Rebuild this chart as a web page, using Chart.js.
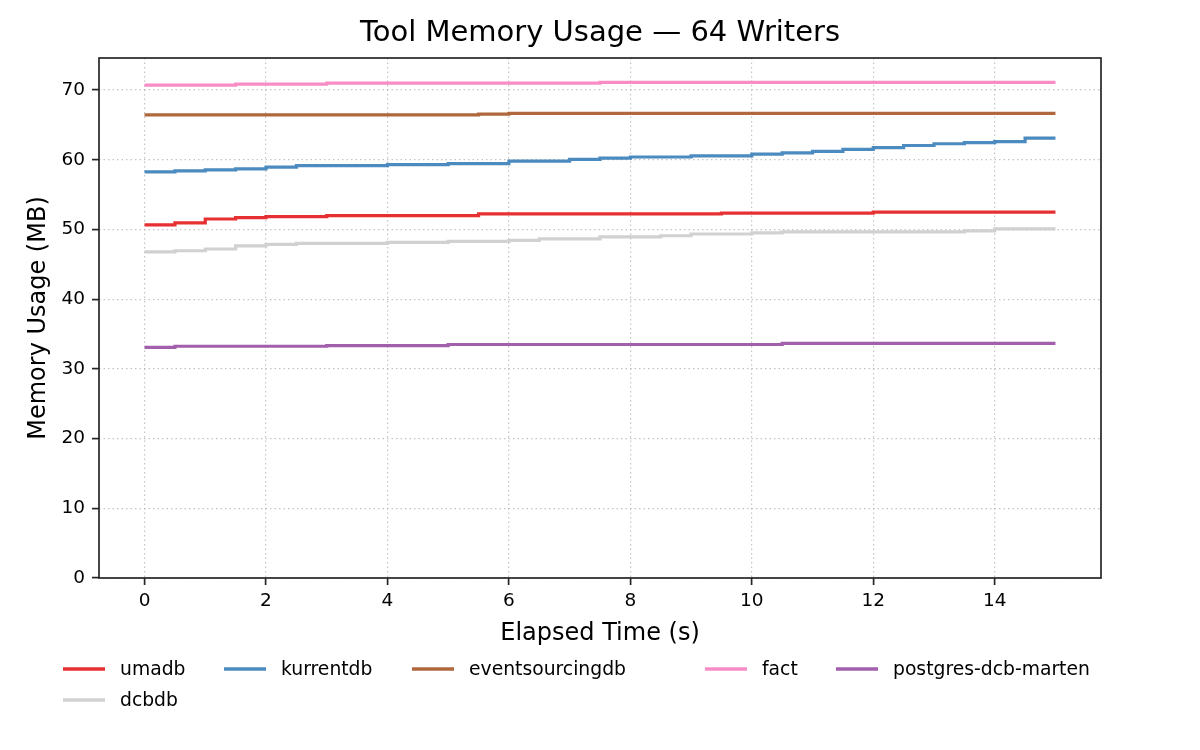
<!DOCTYPE html>
<html>
<head>
<meta charset="utf-8">
<script src="https://cdn.jsdelivr.net/npm/chart.js@4.4.1/dist/chart.umd.min.js"></script>
<style>
  html, body { margin: 0; padding: 0; background: #fff; }
</style>
</head>
<body>
<canvas id="memChart" width="1200" height="750"></canvas>
<script>
// elapsed seconds, one sample every half second
var times = [0, 0.5, 1, 1.5, 2, 2.5, 3, 3.5, 4, 4.5, 5, 5.5, 6, 6.5, 7, 7.5,
             8, 8.5, 9, 9.5, 10, 10.5, 11, 11.5, 12, 12.5, 13, 13.5, 14, 14.5, 15];

var umadb = [50.65, 50.95, 51.5, 51.7, 51.85, 51.85, 52.0, 52.0, 52.0, 52.0, 52.0,
             52.25, 52.25, 52.25, 52.25, 52.25, 52.25, 52.25, 52.25,
             52.35, 52.35, 52.35, 52.35, 52.35,
             52.5, 52.5, 52.5, 52.5, 52.5, 52.5, 52.5];
var kurrentdb = [58.25, 58.4, 58.55, 58.7, 58.95, 59.15, 59.15, 59.15, 59.3, 59.3,
                 59.45, 59.45, 59.8, 59.8, 60.05, 60.25, 60.4, 60.4, 60.55, 60.55,
                 60.8, 61.0, 61.2, 61.5, 61.75, 62.05, 62.3, 62.45, 62.6, 63.1, 63.1];
var eventsourcingdb = [66.45, 66.45, 66.45, 66.45, 66.45, 66.45, 66.45, 66.45, 66.45, 66.45, 66.45,
                       66.55,
                       66.65, 66.65, 66.65, 66.65, 66.65, 66.65, 66.65, 66.65, 66.65, 66.65,
                       66.65, 66.65, 66.65, 66.65, 66.65, 66.65, 66.65, 66.65, 66.65];
var fact = [70.7, 70.7, 70.7, 70.85, 70.85, 70.85,
            71.0, 71.0, 71.0, 71.0, 71.0, 71.0, 71.0, 71.0, 71.0,
            71.1, 71.1, 71.1, 71.1, 71.1, 71.1, 71.1, 71.1, 71.1, 71.1, 71.1, 71.1, 71.1, 71.1, 71.1, 71.1];
var postgresDcbMarten = [33.1, 33.25, 33.25, 33.25, 33.25, 33.25, 33.35, 33.35, 33.35, 33.35,
                         33.5, 33.5, 33.5, 33.5, 33.5, 33.5, 33.5, 33.5, 33.5, 33.5, 33.5,
                         33.65, 33.65, 33.65, 33.65, 33.65, 33.65, 33.65, 33.65, 33.65, 33.65];
var dcbdb = [46.8, 46.95, 47.2, 47.65, 47.85, 48.0, 48.0, 48.0, 48.15, 48.15,
             48.3, 48.3, 48.45, 48.65, 48.65, 48.95, 48.95, 49.1, 49.35, 49.35,
             49.5, 49.65, 49.65, 49.65, 49.65, 49.65, 49.65, 49.8, 50.1, 50.1, 50.1];

var seriesNames = ['umadb', 'kurrentdb', 'eventsourcingdb', 'fact', 'postgres-dcb-marten', 'dcbdb'];
var seriesValues = [umadb, kurrentdb, eventsourcingdb, fact, postgresDcbMarten, dcbdb];
var seriesColors = ['rgba(228,26,28,0.9)', 'rgba(55,126,184,0.9)', 'rgba(166,86,40,0.9)',
                    'rgba(247,129,191,0.9)', 'rgba(152,78,163,0.9)', 'rgba(204,204,204,0.9)'];

var xTicks = [0, 2, 4, 6, 8, 10, 12, 14];
var yTicks = [0, 10, 20, 30, 40, 50, 60, 70];

var FONT = "'DejaVu Sans', sans-serif";
var AXIS_COLOR = '#262626';
var TITLE = 'Tool Memory Usage \u2014 64 Writers';

var datasets = seriesNames.map(function (name, i) {
    return {
        label: name,
        data: times.map(function (t, j) { return { x: t, y: seriesValues[i][j] }; }),
        borderColor: seriesColors[i],
        backgroundColor: seriesColors[i],
        borderWidth: 3.2,
        pointRadius: 0,
        stepped: 'before',   // horizontal first, like plt.step(where='post')
        fill: false
    };
});

// box around the axes + title centred over them
var frame = {
    id: 'frame',
    afterDatasetsDraw: function (chart) {
        var a = chart.chartArea, c = chart.ctx;
        c.save();
        c.strokeStyle = AXIS_COLOR;
        c.lineWidth = 1.7;
        c.strokeRect(a.left, a.top, a.right - a.left, a.bottom - a.top);
        c.fillStyle = '#000';
        c.font = '29px ' + FONT;
        c.textAlign = 'center';
        c.textBaseline = 'middle';
        c.fillText(TITLE, (a.left + a.right) / 2, 33);
        c.restore();
    }
};

// legend below the axes, laid out in columns
var colLegend = {
    id: 'colLegend',
    afterDraw: function (chart) {
        var c = chart.ctx;
        var cols = [63, 224, 412, 705, 836];
        var rows = [669, 700];
        c.save();
        c.font = '18.75px ' + FONT;
        c.textBaseline = 'middle';
        c.fillStyle = '#000';
        chart.data.datasets.forEach(function (ds, i) {
            var x = cols[i % 5], y = rows[Math.floor(i / 5)];
            c.strokeStyle = ds.borderColor;
            c.lineWidth = 3.5;
            c.beginPath();
            c.moveTo(x, y);
            c.lineTo(x + 42, y);
            c.stroke();
            c.fillText(ds.label, x + 57, y + 1);
        });
        c.restore();
    }
};

var gridOpts = {
    color: 'rgba(176,176,176,0.75)',
    lineWidth: 1.2,
    tickColor: AXIS_COLOR,
    tickWidth: 1.7,
    tickLength: 7,
    tickBorderDash: []
};
// in v4 the dash of the grid lines comes from border.dash
var borderOpts = { display: false, dash: [1.5, 3] };

new Chart(document.getElementById('memChart'), {
    type: 'line',
    data: { datasets: datasets },
    plugins: [frame, colLegend],
    options: {
        responsive: false,
        animation: false,
        devicePixelRatio: 1,
        layout: { padding: { left: 0, right: 99, top: 58, bottom: 100 } },
        plugins: {
            legend: { display: false },
            tooltip: { enabled: false },
            title: { display: false }
        },
        scales: {
            x: {
                type: 'linear',
                min: -0.75,
                max: 15.75,
                afterFit: function (s) { s.height = 72; },
                afterBuildTicks: function (s) { s.ticks = xTicks.map(function (v) { return { value: v }; }); },
                border: borderOpts,
                grid: gridOpts,
                ticks: {
                    color: '#000',
                    padding: 5,
                    maxRotation: 0,
                    font: { family: FONT, size: 18.5 },
                    callback: function (v) { return String(v); }
                },
                title: {
                    display: true,
                    text: 'Elapsed Time (s)',
                    color: '#000',
                    font: { family: FONT, size: 24 },
                    padding: { top: 0, bottom: 1.6 }
                }
            },
            y: {
                type: 'linear',
                min: 0,
                max: 74.6,
                afterFit: function (s) { s.width = 99; },
                afterBuildTicks: function (s) { s.ticks = yTicks.map(function (v) { return { value: v }; }); },
                border: borderOpts,
                grid: gridOpts,
                ticks: {
                    color: '#000',
                    padding: 7,
                    font: { family: FONT, size: 18.5 },
                    callback: function (v) { return String(v); }
                },
                title: {
                    display: true,
                    text: 'Memory Usage (MB)',
                    color: '#000',
                    font: { family: FONT, size: 24 },
                    padding: { top: 24, bottom: 0 }
                }
            }
        }
    }
});
</script>
</body>
</html>
